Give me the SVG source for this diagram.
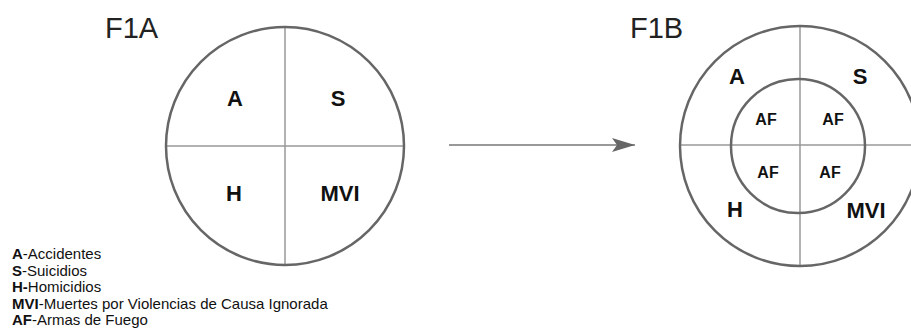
<svg xmlns="http://www.w3.org/2000/svg" width="911" height="335" viewBox="0 0 911 335">
<style>
.circ{fill:none;stroke:#666;stroke-width:2.5}
.div{stroke:#999;stroke-width:1.5}
.title{font-family:"Liberation Sans",Arial,sans-serif;font-size:29px;fill:#222}
.q{font-family:"Liberation Sans",Arial,sans-serif;font-size:22px;font-weight:bold;fill:#111;text-anchor:middle}
.af{font-family:"Liberation Sans",Arial,sans-serif;font-size:16px;font-weight:bold;fill:#111;text-anchor:middle}
.leg{font-family:"Liberation Sans",Arial,sans-serif;font-size:15px;fill:#111}
.leg .b{font-weight:bold}
.conn{stroke:#777;stroke-width:1.5;fill:none}
</style>
<defs>
<marker id="ah" markerUnits="userSpaceOnUse" markerWidth="26" markerHeight="16" refX="23" refY="7" orient="auto">
<path d="M0,0 L23,7 L0,14 L5,7 Z" fill="#666"/>
</marker>
</defs>
<rect width="911" height="335" fill="#fff"/>
<g id="F1A">
<text class="title" x="105" y="38">F1A</text>
<line class="div" x1="285" y1="27" x2="285" y2="265"/>
<line class="div" x1="166" y1="146" x2="404" y2="146"/>
<circle class="circ" cx="285" cy="146" r="119"/>
<text class="q" x="235" y="106">A</text>
<text class="q" x="338" y="106">S</text>
<text class="q" x="234" y="201">H</text>
<text class="q" x="340" y="201">MVI</text>
</g>
<g id="F1B">
<text class="title" x="630" y="38">F1B</text>
<line class="div" x1="800" y1="27" x2="800" y2="267"/>
<line class="div" x1="680" y1="145" x2="911" y2="145"/>
<circle class="circ" cx="800" cy="146" r="120"/>
<circle class="circ" cx="798" cy="146" r="67"/>
<text class="q" x="737" y="84">A</text>
<text class="q" x="860" y="84">S</text>
<text class="q" x="735" y="217">H</text>
<text class="q" x="866" y="218">MVI</text>
<text class="af" x="766" y="125">AF</text>
<text class="af" x="833" y="125">AF</text>
<text class="af" x="768" y="178">AF</text>
<text class="af" x="830" y="178">AF</text>
</g>
<g id="connectors">
<line class="conn" x1="449" y1="145" x2="635" y2="145" marker-end="url(#ah)"/>
</g>
<g id="legend">
<text class="leg" x="12" y="259"><tspan class="b">A</tspan>-Accidentes</text>
<text class="leg" x="12" y="275.5"><tspan class="b">S</tspan>-Suicidios</text>
<text class="leg" x="12" y="292"><tspan class="b">H-</tspan>Homicidios</text>
<text class="leg" x="12" y="308.5"><tspan class="b">MVI</tspan>-Muertes por Violencias de Causa Ignorada</text>
<text class="leg" x="12" y="325"><tspan class="b">AF</tspan>-Armas de Fuego</text>
</g>
</svg>
